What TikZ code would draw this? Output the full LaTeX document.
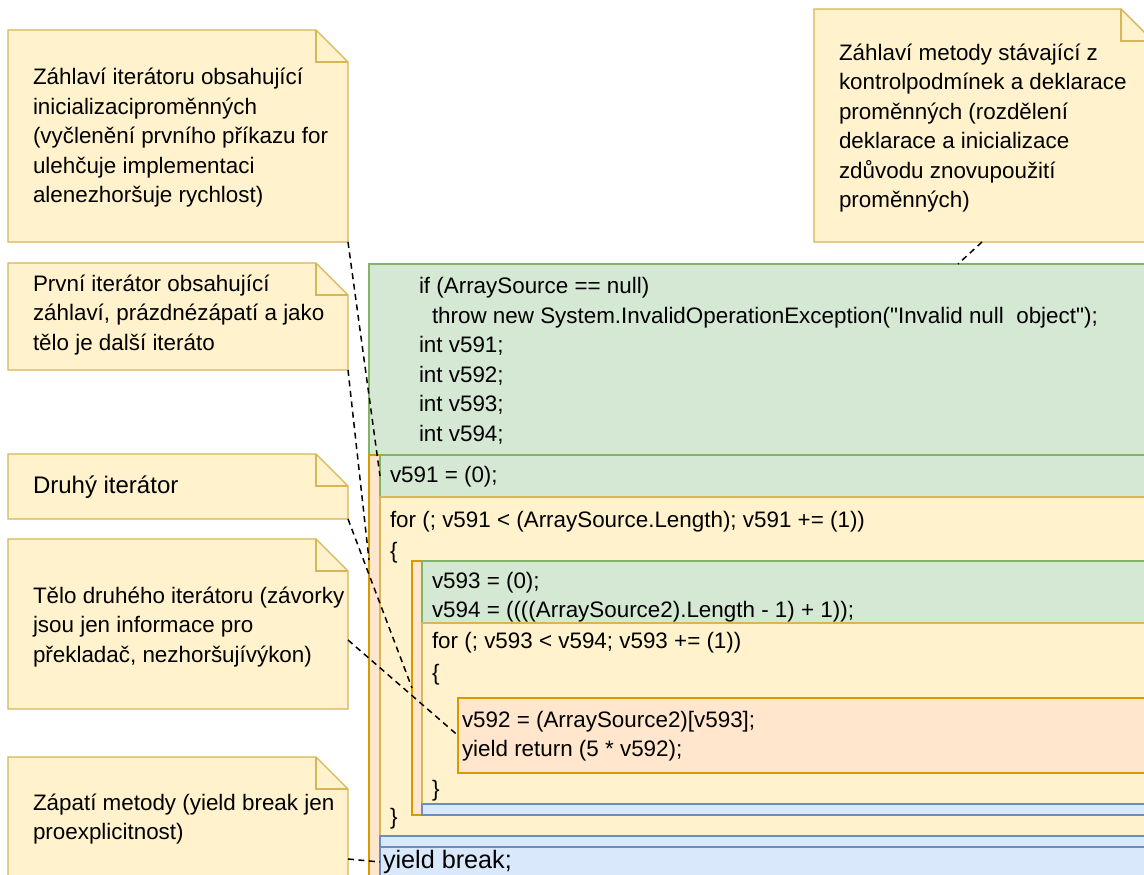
\documentclass[tikz,border=0pt]{standalone}
\usepackage{fontspec}
\setmainfont{Liberation Sans}[Ligatures=TeXOff]
\usetikzlibrary{calc}
\definecolor{gfill}{HTML}{D5E8D4}\definecolor{gline}{HTML}{82B366}
\definecolor{yfill}{HTML}{FFF2CC}\definecolor{yline}{HTML}{D6B656}
\definecolor{ofill}{HTML}{FFE6CC}\definecolor{oline}{HTML}{D79B00}
\definecolor{bfill}{HTML}{DAE8FC}\definecolor{bline}{HTML}{6C8EBF}
\newcommand{\codefont}{\fontsize{22.4}{29.5}\selectfont}
\newcommand{\drawnote}[1]{%
  \filldraw[noteline] (#1.north west) -- ([xshift=-32pt]#1.north east) -- ([yshift=-32pt]#1.north east) -- (#1.south east) -- (#1.south west) -- cycle;
  \draw[noteline,fill=none] ([xshift=-32pt]#1.north east) -- ([xshift=-32pt,yshift=-32pt]#1.north east) -- ([yshift=-32pt]#1.north east);
}
\tikzset{
  box/.style={line width=1.4pt, inner sep=0pt, outer sep=0pt, anchor=north west, rectangle},
  gbox/.style={box, fill=gfill, draw=gline},
  ybox/.style={box, fill=yfill, draw=yline},
  obox/.style={box, fill=ofill, draw=oline},
  bbox/.style={box, fill=bfill, draw=bline},
  notearea/.style={inner sep=0pt, outer sep=0pt, anchor=north west, rectangle, draw=none},
  noteline/.style={line width=1.4pt, draw=yline, fill=yfill, line join=miter},
  txt/.style={inner sep=0pt, outer sep=0pt, anchor=west, align=left, font=\codefont, text=black},
  conn/.style={draw=black, line width=1.5pt, dash pattern=on 6pt off 4.5pt},
}
\begin{document}
\begin{tikzpicture}[x=1pt,y=-1pt]
\useasboundingbox (0,0) rectangle (1144,875);
\clip (0,0) rectangle (1144,875);
\fill[white] (0,0) rectangle (1144,875);

% code structure
\node[gbox, minimum width=791pt, minimum height=191pt] (hdr) at (369,264) {};
\node[obox, minimum width=791pt, minimum height=422pt] (it1) at (369,455) {};
\node[gbox, minimum width=780pt, minimum height=42pt] (init1) at (380,455) {};
\node[ybox, minimum width=780pt, minimum height=339pt] (body1) at (380,497) {};
\node[obox, minimum width=748pt, minimum height=254pt] (it2) at (412,561) {};
\node[gbox, minimum width=738pt, minimum height=62pt] (init2) at (422,561) {};
\node[ybox, minimum width=738pt, minimum height=181pt] (body2) at (422,623) {};
\node[obox, minimum width=702pt, minimum height=75pt] (inner) at (458,698) {};
\node[bbox, minimum width=738pt, minimum height=11pt] (foot2) at (422,804) {};
\node[bbox, minimum width=780pt, minimum height=11pt] (foot1) at (380,836) {};
\node[bbox, minimum width=780pt, minimum height=30pt] (brk) at (380,847) {};

% code texts
\node[txt] (thdr) at (419,361) {if (ArraySource == null)\\
\hspace*{13pt}throw new System.InvalidOperationException("Invalid null\ \ object");\\
int v591;\\int v592;\\int v593;\\int v594;};
\node[txt] (tinit1) at (390,477) {v591 = (0);};
\node[txt] (tfor1) at (390,522) {for (; v591 < (ArraySource.Length); v591 += (1))};
\node[txt] (tob1) at (390,553) {\{};
\node[txt] (tcb1) at (390,819) {\}};
\node[txt] (tinit2) at (432,597) {v593 = (0);\\v594 = ((((ArraySource2).Length - 1) + 1));};
\node[txt] (tfor2) at (432,643) {for (; v593 < v594; v593 += (1))};
\node[txt] (tob2) at (432,675) {\{};
\node[txt] (tcb2) at (432,791) {\}};
\node[txt] (tinner) at (462,736) {v592 = (ArraySource2)[v593];\\yield return (5 * v592);};
\node[txt, font=\fontsize{25.2}{30}\selectfont] (tbrk) at (383,862) {yield break;};

% notes
\node[notearea, minimum width=340pt, minimum height=212pt] (n1) at (8,30) {};
\drawnote{n1}
\node[txt] (t1) at (33,138) {Záhlaví iterátoru obsahující\\inicializaciproměnných\\(vyčlenění prvního příkazu for\\ulehčuje implementaci\\alenezhoršuje rychlost)};

\node[notearea, minimum width=339pt, minimum height=233pt] (n2) at (814,9) {};
\drawnote{n2}
\node[txt] (t2) at (839,128) {Záhlaví metody stávající z\\kontrolpodmínek a deklarace\\proměnných (rozdělení\\deklarace a inicializace\\zdůvodu znovupoužití\\proměnných)};

\node[notearea, minimum width=340pt, minimum height=107pt] (n3) at (8,263) {};
\drawnote{n3}
\node[txt] (t3) at (33,315) {První iterátor obsahující\\záhlaví, prázdnézápatí a jako\\tělo je další iteráto};

\node[notearea, minimum width=340pt, minimum height=65pt] (n4) at (8,454) {};
\drawnote{n4}
\node[txt, font=\fontsize{24}{29}\selectfont] (t4) at (33,487) {Druhý iterátor};

\node[notearea, minimum width=340pt, minimum height=170pt] (n5) at (8,539) {};
\drawnote{n5}
\node[txt] (t5) at (33,627) {Tělo druhého iterátoru (závorky\\jsou jen informace pro\\překladač, nezhoršujívýkon)};

\node[notearea, minimum width=340pt, minimum height=124pt] (n6) at (8,757) {};
\drawnote{n6}
\node[txt] (t6) at (33,819) {Zápatí metody (yield break jen\\proexplicitnost)};

% connectors
\coordinate (c2end) at ([yshift=-105pt]it1.north west);
\coordinate (c4start) at ([yshift=-101pt]n5.north east);
\coordinate (c5start) at ([yshift=-102pt]n6.north east);
\coordinate (c6start) at ([xshift=168pt]n2.south west);
\coordinate (c6end) at ([xshift=589pt]hdr.north west);
\draw[conn] (n1.south east) -- (init1.west);
\draw[conn] (n3.south east) -- (c2end);
\draw[conn] (n4.south east) -- (it2.west);
\draw[conn] (c4start) -- (inner.west);
\draw[conn] (c5start) -- (brk.west);
\draw[conn] (c6start) -- (c6end);
\end{tikzpicture}
\end{document}
